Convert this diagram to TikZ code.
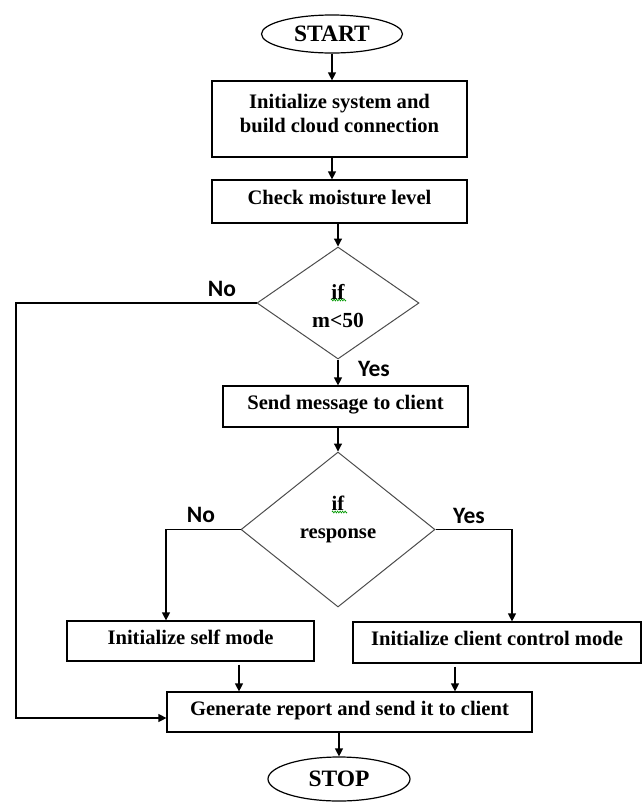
\documentclass[tikz,border=0pt]{standalone}
\usepackage{fontspec}
\setmainfont{Liberation Serif}
\newfontfamily\yesnofont{Carlito}
\usetikzlibrary{shapes.geometric, arrows.meta, decorations.pathmorphing}

\begin{document}
\begin{tikzpicture}[x=1pt, y=-1pt,
  box/.style={draw, line width=1.2pt, rectangle, inner sep=0pt, text height=14pt, text depth=8pt,
    font=\fontsize{20.6}{24}\selectfont\bfseries},
  boxtext/.style={align=center, font=\fontsize{20.6}{24}\selectfont\bfseries},
  term/.style={draw, line width=1.2pt, ellipse, inner sep=0pt, font=\fontsize{23.5}{27}\selectfont\bfseries},
  decide/.style={draw=black!70, line width=1pt, diamond, inner sep=0pt},
  cond/.style={align=center, font=\fontsize{21.5}{28}\selectfont\bfseries},
  answer/.style={font=\yesnofont\fontsize{23.5}{27}\selectfont\bfseries},
  flow/.style={line width=1.2pt, -{Triangle[length=8pt,width=8pt]}},
  squiggle/.style={draw=green!60!black, line width=0.6pt, decorate,
    decoration={zigzag, segment length=2.5pt, amplitude=1pt}}]
  \useasboundingbox (0,0) rectangle (642,807);

  \node[term, minimum width=141pt, minimum height=38pt] (start) at (332,34) {START};
  \node[box, minimum width=255pt, minimum height=76pt] (init) at (339.5,119) {};
  \node[boxtext] (inittext) at (339.5,113) {Initialize system and\\build cloud connection};
  \node[box, minimum width=255pt, minimum height=43pt] (check) at (339.5,201.5) {Check moisture level};

  \node[decide, minimum width=162pt, minimum height=112pt] (ifm) at (338,303) {};
  \node[cond] (ifmtext) at (338,306) {if\\m<50};
  \draw[squiggle] (331,300) -- (346,300);
  \node[answer] (nom) at (222,289) {No};
  \node[answer] (yesm) at (374,369) {Yes};

  \node[box, minimum width=245pt, minimum height=41pt] (send) at (345.5,406.5) {Send message to client};

  \node[decide, minimum width=194pt, minimum height=155pt] (ifr) at (338,529.5) {};
  \node[cond, font=\fontsize{20.6}{28}\selectfont\bfseries] (ifrtext) at (338,519) {if\\response};
  \draw[squiggle] (332,512) -- (347,512);
  \node[answer] (nor) at (201,515) {No};
  \node[answer] (yesr) at (469,516) {Yes};

  \node[box, minimum width=247pt, minimum height=40pt] (self) at (190.5,641) {Initialize self mode};
  \node[box, minimum width=288pt, minimum height=41pt] (client) at (497,642.5) {Initialize client control mode};
  \node[box, minimum width=365pt, minimum height=40pt] (report) at (349.5,712) {Generate report and send it to client};
  \node[term, minimum width=142pt, minimum height=44pt] (stop) at (339,779) {STOP};

  % connectors
  \coordinate (loopx) at (16,303);
  \draw[flow] (start) -- (start |- init.north);
  \draw[flow] (start |- init.south) -- (start |- check.north);
  \draw[flow] (ifm |- check.south) -- (ifm.north);
  \draw[flow] (ifm.south) -- (ifm |- send.north);
  \draw[flow] (ifr |- send.south) -- (ifr.north);
  \draw[flow] (ifr.west) -| ([xshift=-24.5pt]self.north);
  \draw[flow] (ifr.east) -| ([xshift=15pt]client.north);
  \draw[flow] ([xshift=48.5pt,yshift=-3pt]self.south) -- ([xshift=48.5pt]self.south |- report.north);
  \draw[flow] ([xshift=-42pt,yshift=-3pt]client.south) -- ([xshift=-42pt]client.south |- report.north);
  \draw[flow] (ifm.west) -- (loopx) |- ([yshift=-6pt]report.west);
  \draw[flow] (stop |- report.south) -- (stop.north);
\end{tikzpicture}
\end{document}
